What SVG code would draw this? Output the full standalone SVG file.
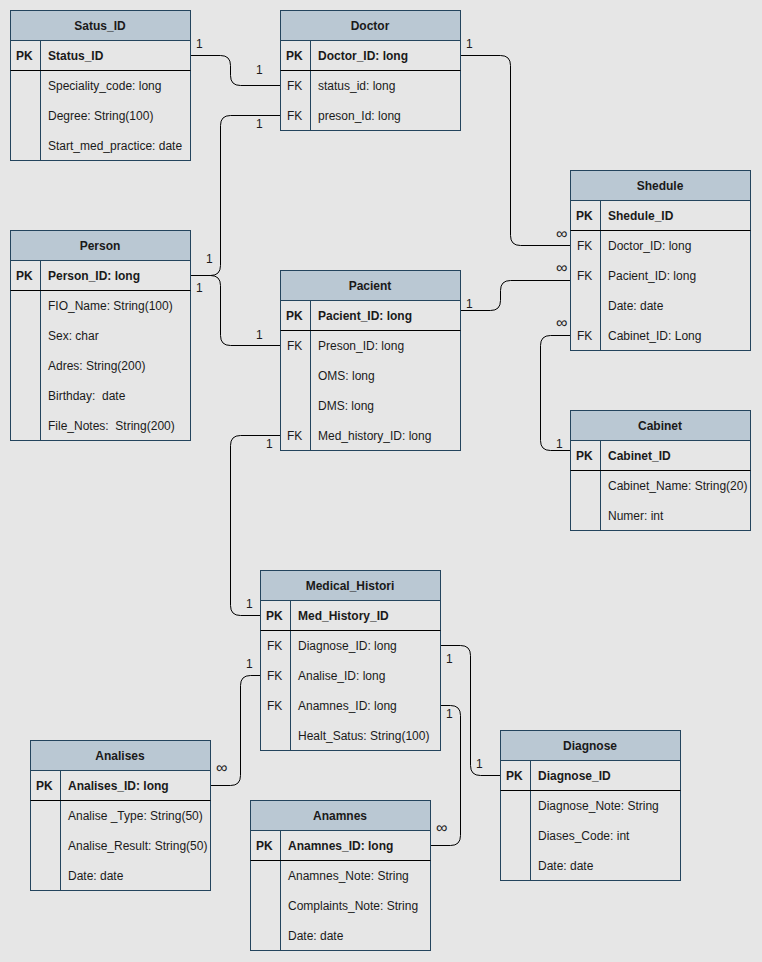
<svg xmlns="http://www.w3.org/2000/svg" width="762" height="962" viewBox="0 0 762 962">
<style>
text{font-family:"Liberation Sans",Arial,Helvetica,sans-serif;font-size:12px;fill:#1a1a1a}
.node text{transform:translate(-0.5px,0.5px)}
.t{font-weight:bold;text-anchor:middle}
.b{font-weight:bold}
.hd{fill:#bac8d3;stroke:#23445d;stroke-width:1}
.bx{fill:#e6e6e6;stroke:#23445d;stroke-width:1}
.sep{stroke:#000;stroke-width:1}
.col{stroke:#23445d;stroke-width:1}
.c{fill:none;stroke:#000;stroke-width:1}
.inf{font-size:16px}
</style>
<rect x="0" y="0" width="762" height="962" fill="#e6e6e6"/>
<g id="connectors">
<g transform="translate(0.5,0.5)">
<path class="c" d="M190,55 H220 Q230,55 230,65 V75 Q230,85 240,85 H280"/>
<path class="c" d="M280,115 H230 Q220,115 220,125 V265 Q220,275 210,275 H190"/>
<path class="c" d="M190,275 H210 Q220,275 220,285 V335 Q220,345 230,345 H280"/>
<path class="c" d="M460,55 H500 Q510,55 510,65 V235 Q510,245 520,245 H570"/>
<path class="c" d="M460,310 H490 Q500,310 500,300 V290 Q500,280 510,280 H570"/>
<path class="c" d="M570,335 H550 Q540,335 540,345 V440 Q540,450 550,450 H570"/>
<path class="c" d="M280,435 H240 Q230,435 230,445 V605 Q230,615 240,615 H260"/>
<path class="c" d="M440,645 H460 Q470,645 470,655 V765 Q470,775 480,775 H500"/>
<path class="c" d="M260,675 H250 Q240,675 240,685 V775 Q240,785 230,785 H210"/>
<path class="c" d="M440,705 H450 Q460,705 460,715 V835 Q460,845 450,845 H430"/>
</g>
<text x="196" y="48">1</text>
<text x="256" y="74">1</text>
<text x="256" y="128">1</text>
<text x="466" y="48">1</text>
<text x="206" y="263">1</text>
<text x="196" y="292">1</text>
<text x="256" y="339">1</text>
<text x="266" y="448">1</text>
<text x="466" y="308">1</text>
<text class="inf" x="556" y="239">∞</text>
<text class="inf" x="556" y="273">∞</text>
<text class="inf" x="556" y="328">∞</text>
<text x="556" y="448">1</text>
<text x="246" y="608">1</text>
<text x="246" y="668">1</text>
<text x="446" y="663">1</text>
<text x="446" y="718">1</text>
<text x="476" y="768">1</text>
<text class="inf" x="216" y="773">∞</text>
<text class="inf" x="436" y="833">∞</text>
</g>
<g id="satus_id" class="node" transform="translate(0.5,0.5)">
<rect class="bx" x="10" y="10" width="180" height="150"/>
<rect class="hd" x="10" y="10" width="180" height="30"/>
<line class="col" x1="40" y1="40" x2="40" y2="160"/>
<line class="sep" x1="10" y1="70" x2="190" y2="70"/>
<text class="t" x="100" y="29">Satus_ID</text>
<text class="b" x="16" y="59">PK</text>
<text class="b" x="48" y="59">Status_ID</text>
<text x="48" y="89">Speciality_code: long</text>
<text x="48" y="119">Degree: String(100)</text>
<text x="48" y="149">Start_med_practice: date</text>
</g>
<g id="doctor" class="node" transform="translate(0.5,0.5)">
<rect class="bx" x="280" y="10" width="180" height="120"/>
<rect class="hd" x="280" y="10" width="180" height="30"/>
<line class="col" x1="310" y1="40" x2="310" y2="130"/>
<line class="sep" x1="280" y1="70" x2="460" y2="70"/>
<text class="t" x="370" y="29">Doctor</text>
<text class="b" x="286" y="59">PK</text>
<text class="b" x="318" y="59">Doctor_ID: long</text>
<text x="287" y="89">FK</text>
<text x="318" y="89">status_id: long</text>
<text x="287" y="119">FK</text>
<text x="318" y="119">preson_Id: long</text>
</g>
<g id="shedule" class="node" transform="translate(0.5,0.5)">
<rect class="bx" x="570" y="170" width="180" height="180"/>
<rect class="hd" x="570" y="170" width="180" height="30"/>
<line class="col" x1="600" y1="200" x2="600" y2="350"/>
<line class="sep" x1="570" y1="230" x2="750" y2="230"/>
<text class="t" x="660" y="189">Shedule</text>
<text class="b" x="576" y="219">PK</text>
<text class="b" x="608" y="219">Shedule_ID</text>
<text x="577" y="249">FK</text>
<text x="608" y="249">Doctor_ID: long</text>
<text x="577" y="279">FK</text>
<text x="608" y="279">Pacient_ID: long</text>
<text x="608" y="309">Date: date</text>
<text x="577" y="339">FK</text>
<text x="608" y="339">Cabinet_ID: Long</text>
</g>
<g id="person" class="node" transform="translate(0.5,0.5)">
<rect class="bx" x="10" y="230" width="180" height="210"/>
<rect class="hd" x="10" y="230" width="180" height="30"/>
<line class="col" x1="40" y1="260" x2="40" y2="440"/>
<line class="sep" x1="10" y1="290" x2="190" y2="290"/>
<text class="t" x="100" y="249">Person</text>
<text class="b" x="16" y="279">PK</text>
<text class="b" x="48" y="279">Person_ID: long</text>
<text x="48" y="309">FIO_Name: String(100)</text>
<text x="48" y="339">Sex: char</text>
<text x="48" y="369">Adres: String(200)</text>
<text x="48" y="399" xml:space="preserve">Birthday:  date</text>
<text x="48" y="429" xml:space="preserve">File_Notes:  String(200)</text>
</g>
<g id="pacient" class="node" transform="translate(0.5,0.5)">
<rect class="bx" x="280" y="270" width="180" height="180"/>
<rect class="hd" x="280" y="270" width="180" height="30"/>
<line class="col" x1="310" y1="300" x2="310" y2="450"/>
<line class="sep" x1="280" y1="330" x2="460" y2="330"/>
<text class="t" x="370" y="289">Pacient</text>
<text class="b" x="286" y="319">PK</text>
<text class="b" x="318" y="319">Pacient_ID: long</text>
<text x="287" y="349">FK</text>
<text x="318" y="349">Preson_ID: long</text>
<text x="318" y="379">OMS: long</text>
<text x="318" y="409">DMS: long</text>
<text x="287" y="439">FK</text>
<text x="318" y="439">Med_history_ID: long</text>
</g>
<g id="cabinet" class="node" transform="translate(0.5,0.5)">
<rect class="bx" x="570" y="410" width="180" height="120"/>
<rect class="hd" x="570" y="410" width="180" height="30"/>
<line class="col" x1="600" y1="440" x2="600" y2="530"/>
<line class="sep" x1="570" y1="470" x2="750" y2="470"/>
<text class="t" x="660" y="429">Cabinet</text>
<text class="b" x="576" y="459">PK</text>
<text class="b" x="608" y="459">Cabinet_ID</text>
<text x="608" y="489">Cabinet_Name: String(20)</text>
<text x="608" y="519">Numer: int</text>
</g>
<g id="medical_histori" class="node" transform="translate(0.5,0.5)">
<rect class="bx" x="260" y="570" width="180" height="180"/>
<rect class="hd" x="260" y="570" width="180" height="30"/>
<line class="col" x1="290" y1="600" x2="290" y2="750"/>
<line class="sep" x1="260" y1="630" x2="440" y2="630"/>
<text class="t" x="350" y="589">Medical_Histori</text>
<text class="b" x="266" y="619">PK</text>
<text class="b" x="298" y="619">Med_History_ID</text>
<text x="267" y="649">FK</text>
<text x="298" y="649">Diagnose_ID: long</text>
<text x="267" y="679">FK</text>
<text x="298" y="679">Analise_ID: long</text>
<text x="267" y="709">FK</text>
<text x="298" y="709">Anamnes_ID: long</text>
<text x="298" y="739">Healt_Satus: String(100)</text>
</g>
<g id="analises" class="node" transform="translate(0.5,0.5)">
<rect class="bx" x="30" y="740" width="180" height="150"/>
<rect class="hd" x="30" y="740" width="180" height="30"/>
<line class="col" x1="60" y1="770" x2="60" y2="890"/>
<line class="sep" x1="30" y1="800" x2="210" y2="800"/>
<text class="t" x="120" y="759">Analises</text>
<text class="b" x="36" y="789">PK</text>
<text class="b" x="68" y="789">Analises_ID: long</text>
<text x="68" y="819">Analise _Type: String(50)</text>
<text x="68" y="849">Analise_Result: String(50)</text>
<text x="68" y="879">Date: date</text>
</g>
<g id="anamnes" class="node" transform="translate(0.5,0.5)">
<rect class="bx" x="250" y="800" width="180" height="150"/>
<rect class="hd" x="250" y="800" width="180" height="30"/>
<line class="col" x1="280" y1="830" x2="280" y2="950"/>
<line class="sep" x1="250" y1="860" x2="430" y2="860"/>
<text class="t" x="340" y="819">Anamnes</text>
<text class="b" x="256" y="849">PK</text>
<text class="b" x="288" y="849">Anamnes_ID: long</text>
<text x="288" y="879">Anamnes_Note: String</text>
<text x="288" y="909">Complaints_Note: String</text>
<text x="288" y="939">Date: date</text>
</g>
<g id="diagnose" class="node" transform="translate(0.5,0.5)">
<rect class="bx" x="500" y="730" width="180" height="150"/>
<rect class="hd" x="500" y="730" width="180" height="30"/>
<line class="col" x1="530" y1="760" x2="530" y2="880"/>
<line class="sep" x1="500" y1="790" x2="680" y2="790"/>
<text class="t" x="590" y="749">Diagnose</text>
<text class="b" x="506" y="779">PK</text>
<text class="b" x="538" y="779">Diagnose_ID</text>
<text x="538" y="809">Diagnose_Note: String</text>
<text x="538" y="839">Diases_Code: int</text>
<text x="538" y="869">Date: date</text>
</g>
</svg>
